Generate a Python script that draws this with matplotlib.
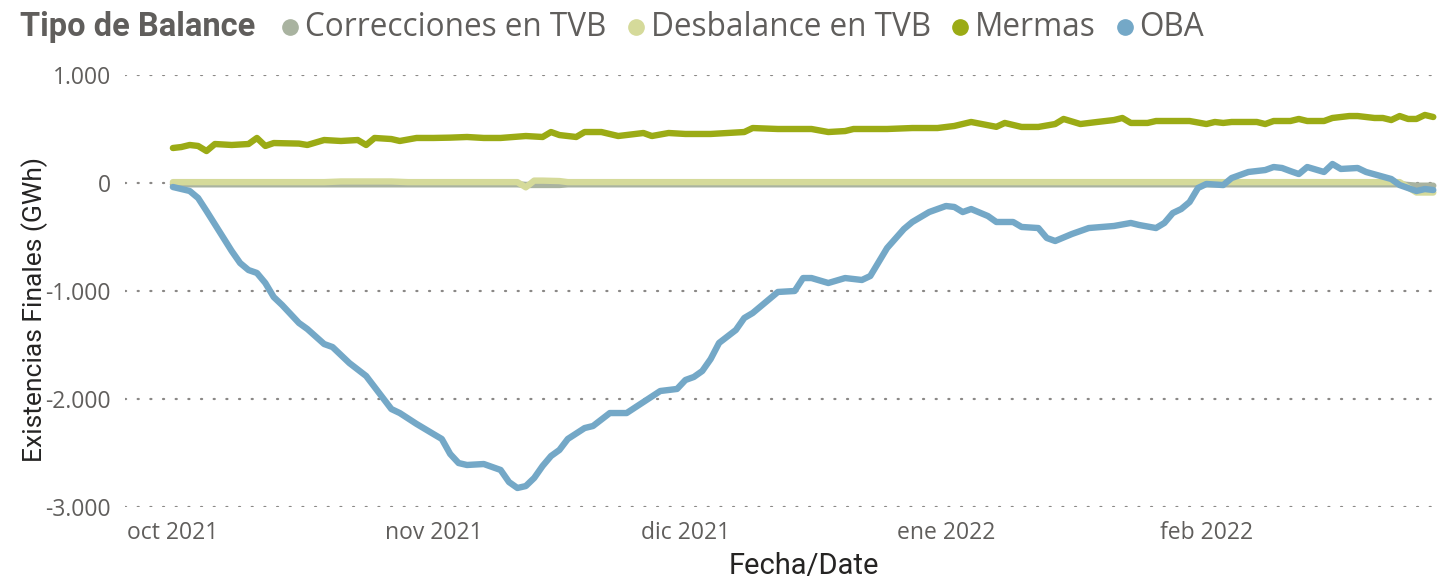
import matplotlib
matplotlib.use("Agg")
import matplotlib.pyplot as plt
from matplotlib.lines import Line2D
import pandas as pd

# ---- data (GWh), days counted from 2021-10-01 ----
start_date = "2021-10-01"
series_names = ["Correcciones en TVB", "Desbalance en TVB", "Mermas", "OBA"]

oba_days = [0, 2, 3, 4, 7, 8, 9, 10, 11, 12, 13, 15, 16, 18, 19, 21, 23, 26, 27, 29,
            31, 32, 33, 34, 35, 37, 39, 40, 41, 42, 43, 44, 45, 46, 47, 49, 50, 52, 54, 56,
            58, 60, 61, 62, 63, 64, 65, 67, 68, 69, 72, 74, 75, 76, 78, 80, 82, 83, 85, 87,
            88, 90, 91, 92, 93, 94, 95, 97, 98, 100, 101, 103, 104, 105, 107, 109, 112, 114, 115, 117,
            118, 119, 120, 121, 122, 123, 125, 126, 128, 130, 131, 132, 133, 134, 135, 137, 138, 139, 141, 142,
            145, 146, 148, 149, 150]
oba_vals = [-37, -74, -139, -259, -630, -741, -806, -833, -926, -1056, -1130, -1296, -1352, -1491, -1519, -1667, -1787, -2093, -2130, -2231,
            -2324, -2370, -2509, -2593, -2611, -2602, -2657, -2769, -2824, -2806, -2731, -2620, -2528, -2472, -2370, -2269, -2250, -2130, -2130, -2028,
            -1926, -1907, -1824, -1796, -1741, -1630, -1481, -1361, -1250, -1204, -1009, -1000, -880, -880, -926, -880, -898, -861, -602, -426,
            -361, -269, -241, -213, -222, -269, -241, -306, -361, -361, -407, -417, -509, -537, -472, -417, -398, -370, -389, -417,
            -370, -278, -241, -176, -46, -9, -19, 46, 102, 120, 148, 139, 110, 83, 148, 102, 176, 130, 139, 102,
            37, -19, -74, -56, -65]

mermas_days = [0, 1, 2, 3, 4, 5, 7, 9, 10, 11, 12, 15, 16, 18, 20, 22, 23, 24, 26, 27,
               29, 31, 33, 35, 37, 39, 42, 44, 45, 46, 48, 49, 51, 53, 56, 57, 59, 61, 64, 68,
               69, 72, 76, 78, 80, 81, 85, 88, 91, 93, 95, 98, 99, 101, 103, 105, 106, 108, 110, 112,
               113, 114, 116, 117, 121, 123, 124, 125, 126, 129, 130, 131, 133, 134, 135, 137, 138, 140, 141, 143,
               144, 145, 146, 147, 148, 149, 150]
mermas_vals = [324, 333, 352, 343, 296, 361, 352, 361, 417, 343, 370, 365, 352, 398, 389, 398, 352, 417, 407, 389,
               417, 417, 420, 426, 417, 417, 435, 426, 472, 444, 426, 472, 472, 435, 463, 435, 463, 454, 454, 472,
               509, 500, 500, 472, 481, 500, 500, 509, 509, 528, 565, 520, 556, 519, 519, 546, 593, 546, 565, 583,
               602, 556, 556, 574, 574, 546, 565, 556, 565, 565, 546, 574, 574, 593, 574, 574, 602, 620, 620, 602,
               602, 583, 620, 593, 593, 630, 611]

desb_days = [0, 18, 20, 26, 28, 41, 42, 43, 44, 46, 47, 146, 147, 148, 150]
desb_vals = [8, 8, 14, 14, 8, 8, -40, 22, 22, 18, 8, 8, -40, -88, -88]

corr_days = [0, 41, 42, 46, 47, 146, 148, 150]
corr_vals = [-12, -12, -18, -18, -12, -12, -25, -25]

y_ticks = [1000, 0, -1000, -2000, -3000]
y_ticklabels = ["1.000", "0", "-1.000", "-2.000", "-3.000"]
month_ticks = ["2021-10-01", "2021-11-01", "2021-12-01", "2022-01-01", "2022-02-01"]
month_labels = ["oct 2021", "nov 2021", "dic 2021", "ene 2022", "feb 2022"]

colors = ["#a9b3a0", "#d5da9a", "#9bab15", "#74a8c7"]
text_gray = "#605e5c"
title_dark = "#252423"


def to_dates(days):
    return pd.Timestamp(start_date) + pd.to_timedelta(days, unit="D")


W, H = 1449, 581
fig = plt.figure(figsize=(W / 100, H / 100), dpi=100)
ax = fig.add_axes([125 / W, 1 - 507 / H, 1315 / W, 432 / H])

series = [(corr_days, corr_vals), (desb_days, desb_vals),
          (mermas_days, mermas_vals), (oba_days, oba_vals)]
for (d, v), c in zip(series, colors):
    ax.plot(to_dates(d), v, color=c, lw=4.6, solid_capstyle="round",
            solid_joinstyle="round", clip_on=False, zorder=3)

ax.set_ylim(-3000, 1000)
ax.set_xlim(pd.Timestamp(start_date) - pd.Timedelta(days=5.7),
            pd.Timestamp(start_date) + pd.Timedelta(days=150.8))
ax.set_yticks(y_ticks)
ax.set_yticklabels(y_ticklabels)
ax.set_xticks(pd.to_datetime(month_ticks))
ax.set_xticklabels(month_labels)
ax.grid(axis="y", color="#8a8886", linestyle=(0, (0.5, 5.2)), lw=1.6,
        dash_capstyle="round", zorder=0)
ax.grid(axis="x", visible=False)
for s in ax.spines.values():
    s.set_visible(False)
ax.tick_params(length=0, labelsize=16.5, labelcolor=text_gray)
ax.tick_params(axis="y", pad=10)
ax.tick_params(axis="x", pad=10)
for lab in ax.get_xticklabels() + ax.get_yticklabels():
    lab.set_family("Open Sans")

fig.text(35 / W, 1 - 310 / H, "Existencias Finales (GWh)", rotation=90,
         ha="center", va="center", fontsize=19, color=title_dark, family="Roboto")
fig.text(804 / W, 1 - 566 / H, "Fecha/Date", ha="center", va="center",
         fontsize=21, color=title_dark, family="Roboto")

# legend row, laid out left to right
renderer = fig.canvas.get_renderer()
ly = 1 - 27 / H
t = fig.text(20 / W, ly, "Tipo de Balance", ha="left", va="center", fontsize=23.5,
             fontweight="bold", color=text_gray, family="Roboto")
x_end = t.get_window_extent(renderer).x1
gap = 35
for name, c in zip(series_names, colors):
    mx = x_end + gap
    fig.add_artist(Line2D([mx / W], [ly], marker="o", ms=11, color=c, lw=0,
                          transform=fig.transFigure))
    t = fig.text((mx + 15) / W, ly, name, ha="left", va="center", fontsize=22.7,
                 color=text_gray, family="Open Sans")
    x_end = t.get_window_extent(renderer).x1
    gap = 29

fig.savefig("out.png", dpi=100)
